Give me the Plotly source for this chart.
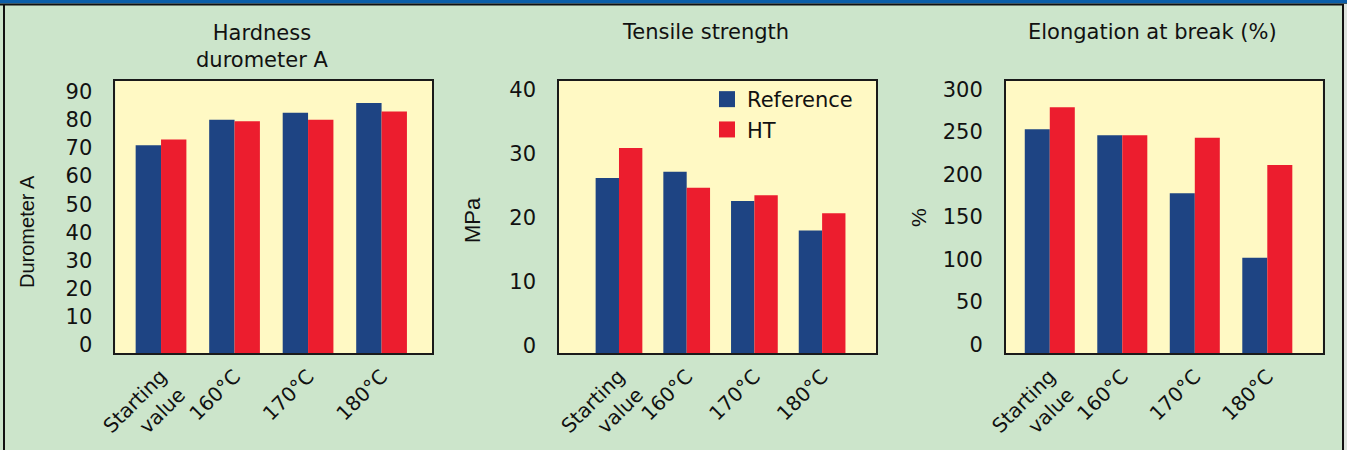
import plotly.graph_objects as go

# ---------------- data ----------------
categories = ["Starting<br>value", "160°C", "170°C", "180°C"]
series_names = ["Reference", "HT"]

hardness_ref = [71, 80, 82.5, 86]
hardness_ht = [73, 79.5, 80, 83]

tensile_ref = [26.2, 27.2, 22.6, 18.0]
tensile_ht = [30.9, 24.7, 23.5, 20.7]

elong_ref = [253, 246, 178, 102]
elong_ht = [279, 246, 243, 211]

panel_titles = ["Hardness<br>durometer A", "Tensile strength", "Elongation at break (%)"]
y_titles = ["Durometer A", "MPa", "%"]
y_ticks_h = [0, 10, 20, 30, 40, 50, 60, 70, 80, 90]
y_ticks_t = [0, 10, 20, 30, 40]
y_ticks_e = [0, 50, 100, 150, 200, 250, 300]

# ---------------- style ----------------
W, H = 1347, 450
FONT = "DejaVu Sans"
FONT_V = "Liberation Sans"
BLUE = "#1e4483"
RED = "#ec1d2e"
GREEN = "#cce5cb"
YELLOW = "#fff9c4"
INK = "#111111"

def px_x(p):
    return p / W

def px_y(p):
    return 1 - p / H

plot_top, plot_bottom = 81, 353
panels = [
    dict(data=(hardness_ref, hardness_ht), xdom=(115.3, 432.3), yrange=(-2.84, 93.8),
         xrange=(-0.622, 3.69), ticks=y_ticks_h, title_xy=(262, 46),
         ytitle_xy=(27, 232), ytitle_size=20),
    dict(data=(tensile_ref, tensile_ht), xdom=(559, 876), yrange=(-1.17, 41.4),
         xrange=(-0.886, 3.796), ticks=y_ticks_t, title_xy=(705, 32),
         ytitle_xy=(472, 220), ytitle_size=22),
    dict(data=(elong_ref, elong_ht), xdom=(1005.7, 1322.7), yrange=(-9.8, 309.8),
         xrange=(-0.608, 3.764), ticks=y_ticks_e, title_xy=(1152, 32),
         ytitle_xy=(918, 218), ytitle_size=21),
]

fig = go.Figure()
layout_axes = {}
annotations = []

for i, p in enumerate(panels, start=1):
    xa = "x" if i == 1 else f"x{i}"
    ya = "y" if i == 1 else f"y{i}"
    base = p["yrange"][0]
    for name, vals, col in zip(series_names, p["data"], (BLUE, RED)):
        fig.add_trace(go.Bar(
            x=categories, y=[v - base for v in vals], base=base,
            customdata=vals, hovertemplate="%{x}: %{customdata}<extra>" + name + "</extra>",
            name=name, marker=dict(color=col, line=dict(width=0)),
            xaxis=xa, yaxis=ya, showlegend=False, legendgroup=name,
        ))
    layout_axes["xaxis" if i == 1 else f"xaxis{i}"] = dict(
        domain=[px_x(p["xdom"][0]), px_x(p["xdom"][1])], anchor=ya,
        range=list(p["xrange"]), type="category", automargin=False,
        showline=True, mirror=True, linecolor="#1a1a1a", linewidth=1.5,
        ticks="", tickangle=-45, ticklabelstandoff=2,
        tickfont=dict(family=FONT, size=20, color=INK),
        showgrid=False, zeroline=False, fixedrange=True,
    )
    layout_axes["yaxis" if i == 1 else f"yaxis{i}"] = dict(
        domain=[px_y(plot_bottom), px_y(plot_top)], anchor=xa,
        range=list(p["yrange"]), tickvals=p["ticks"], automargin=False,
        showline=True, mirror=True, linecolor="#1a1a1a", linewidth=1.5,
        ticks="", ticklabelstandoff=17, tickfont=dict(family=FONT, size=21, color=INK),
        showgrid=False, zeroline=False, fixedrange=True,
    )
    tx, ty = p["title_xy"]
    annotations.append(dict(
        text=panel_titles[i - 1], x=px_x(tx), y=px_y(ty), xref="paper", yref="paper",
        xanchor="center", yanchor="middle", showarrow=False,
        font=dict(family=FONT, size=21, color=INK),
    ))
    yx, yy = p["ytitle_xy"]
    annotations.append(dict(
        text=y_titles[i - 1], x=px_x(yx), y=px_y(yy), xref="paper", yref="paper",
        xanchor="center", yanchor="middle", textangle=-90, showarrow=False,
        font=dict(family=FONT_V, size=p["ytitle_size"], color=INK),
    ))

# legend entries (square markers)
for name, col in zip(series_names, (BLUE, RED)):
    fig.add_trace(go.Scatter(
        x=[None], y=[None], mode="markers", name=name, legendgroup=name,
        marker=dict(symbol="square", size=16, color=col), xaxis="x2", yaxis="y2",
    ))

shapes = [
    dict(type="rect", xref="paper", yref="paper", x0=0, x1=1, y0=px_y(3.4), y1=1,
         fillcolor="#0b5ea9", line=dict(width=0), layer="above"),
    dict(type="line", xref="paper", yref="paper", x0=0, x1=1, y0=px_y(4.4), y1=px_y(4.4),
         line=dict(color="#111111", width=2), layer="above"),
    dict(type="line", xref="paper", yref="paper", x0=px_x(4), x1=px_x(4), y0=0, y1=px_y(4),
         line=dict(color="#111111", width=2), layer="above"),
    dict(type="rect", xref="paper", yref="paper", x0=px_x(1344), x1=1, y0=0, y1=px_y(4),
         fillcolor="#dde3dd", line=dict(width=0), layer="above"),
    dict(type="line", xref="paper", yref="paper", x0=px_x(1343), x1=px_x(1343), y0=0, y1=px_y(4),
         line=dict(color="#111111", width=2), layer="above"),
]

fig.update_layout(
    width=W, height=H, autosize=False,
    margin=dict(l=0, r=0, t=0, b=0, pad=0, autoexpand=False),
    paper_bgcolor=GREEN, plot_bgcolor=YELLOW,
    barmode="group", bargap=0.31, bargroupgap=0,
    font=dict(family=FONT, size=21, color=INK),
    showlegend=True,
    legend=dict(x=px_x(707), y=px_y(79), xanchor="left", yanchor="top",
                bgcolor="rgba(0,0,0,0)", borderwidth=0,
                font=dict(family=FONT, size=21, color=INK), tracegroupgap=0),
    annotations=annotations, shapes=shapes,
)
fig.update_layout(**layout_axes)

fig.write_html("out.html")
